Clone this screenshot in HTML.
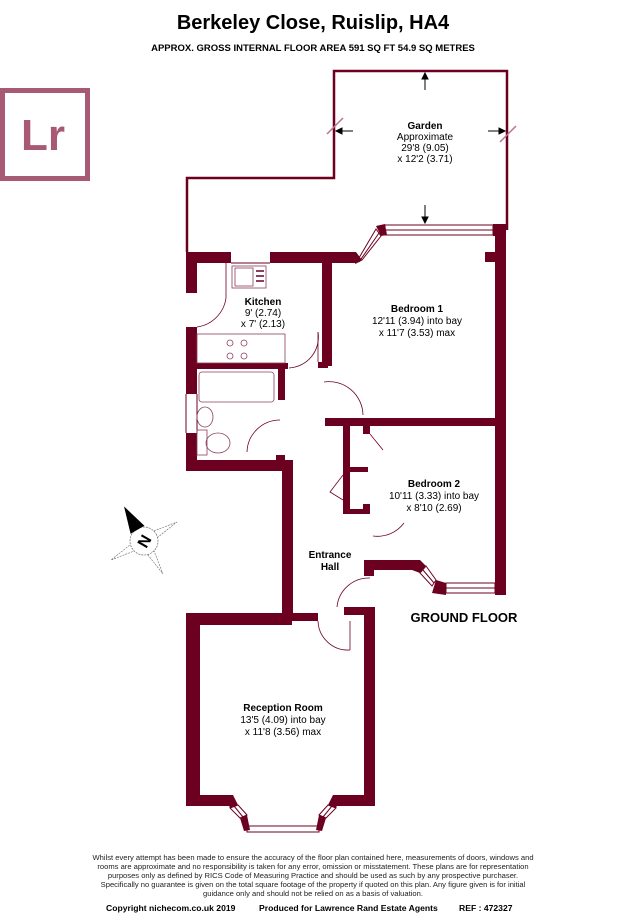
<!DOCTYPE html>
<html><head><meta charset="utf-8"><style>
html,body{margin:0;padding:0;background:#fff;}
body{width:627px;height:916px;overflow:hidden;position:relative;font-family:"Liberation Sans",Arial,sans-serif;}
svg{position:absolute;left:0;top:0;}
</style></head><body>
<svg width="627" height="916" viewBox="0 0 627 916" xmlns="http://www.w3.org/2000/svg" font-family="Liberation Sans, Arial, sans-serif">
<text x="313" y="29" text-anchor="middle" font-size="20" font-weight="bold" fill="#000">Berkeley Close, Ruislip, HA4</text>
<text x="313" y="51" text-anchor="middle" font-size="9.5" font-weight="bold" fill="#000">APPROX. GROSS INTERNAL FLOOR AREA 591 SQ FT 54.9 SQ METRES</text>

<!-- Lr logo -->
<rect x="2.5" y="90.5" width="85" height="88" fill="none" stroke="#a85a75" stroke-width="5"/>
<text x="21" y="150" font-size="44" font-weight="bold" fill="#a85a75">Lr</text>

<!-- Garden outline -->
<polyline points="187,252 187,178 334,178 334,71 507,71 507,230" fill="none" stroke="#6b0020" stroke-width="2.5"/>
<g stroke="#000" stroke-width="1" fill="#000">
<line x1="425" y1="90" x2="425" y2="76"/><polygon points="425,73 422,79 428,79"/>
<line x1="425" y1="205" x2="425" y2="220"/><polygon points="425,223 422,217 428,217"/>
<line x1="353" y1="131" x2="339" y2="131"/><polygon points="336,131 342,128 342,134"/>
<line x1="488" y1="131" x2="502" y2="131"/><polygon points="505,131 499,128 499,134"/>
</g>
<g stroke="#c07090" stroke-width="1.5"><line x1="327" y1="134" x2="343" y2="118"/><line x1="500" y1="142" x2="516" y2="126"/></g>
<text x="425" y="129" text-anchor="middle" font-size="10" font-weight="bold">Garden</text>
<text x="425" y="140" text-anchor="middle" font-size="10">Approximate</text>
<text x="425" y="151" text-anchor="middle" font-size="10">29'8 (9.05)</text>
<text x="425" y="162" text-anchor="middle" font-size="10">x 12'2 (3.71)</text>

<g fill="#6b0020">
<!-- top walls -->
<rect x="186" y="252" width="45" height="11"/>
<rect x="270" y="252" width="86" height="11"/>
<polygon points="350,252 356,252 362,260 356,263 352,263"/>
<polygon points="376,226 385,224 387,235 381,236"/>
<rect x="493" y="224" width="12" height="12"/>
<rect x="495" y="224" width="11" height="371"/>
<rect x="485" y="252" width="20" height="10"/>
<!-- left wall -->
<rect x="186" y="252" width="11" height="41"/>
<rect x="186" y="327" width="11" height="67"/>
<rect x="186" y="433" width="11" height="38"/>
<!-- kitchen/bath wall -->
<rect x="197" y="363" width="91" height="6"/>
<rect x="278" y="363" width="7" height="37"/>
<rect x="276" y="455" width="9" height="10"/>
<!-- bath bottom -->
<rect x="186" y="460" width="106" height="11"/>
<rect x="282" y="460" width="11" height="158"/>
<!-- bedroom1 left -->
<rect x="322" y="262" width="10" height="104"/>
<rect x="318" y="362" width="10" height="6"/>
<rect x="325" y="418" width="172" height="8"/>
<!-- cupboard -->
<rect x="343" y="426" width="7" height="88"/>
<rect x="343" y="467" width="25" height="5"/>
<rect x="343" y="509" width="25" height="5"/>
<rect x="363" y="426" width="7" height="8"/>
<rect x="363" y="504" width="7" height="10"/>
<!-- bedroom2 bottom -->
<rect x="364" y="560" width="54" height="10"/>
<polygon points="412,560 420,560 426,566 420,573 412,570"/>
<polygon points="436,580 446,583 446,595 432,593"/>
<rect x="364" y="560" width="10" height="16"/>
<!-- reception -->
<rect x="186" y="613" width="106" height="12"/>
<rect x="292" y="613" width="26" height="8"/>
<rect x="344" y="607" width="31" height="8"/>
<rect x="364" y="607" width="11" height="198"/>
<rect x="186" y="613" width="14" height="192"/>
<rect x="186" y="795" width="44" height="11"/>
<rect x="336" y="795" width="39" height="11"/>
<polygon points="225,795 233,795 238,805 230,808"/>
<polygon points="240,818 247,815 250,830 244,831"/>
<polygon points="341,795 333,795 328,805 336,808"/>
<polygon points="326,818 319,815 316,830 322,831"/>
</g>
<!-- windows -->
<g fill="none" stroke="#6b0020" stroke-width="1">
<rect x="385" y="225" width="108" height="10"/><line x1="385" y1="230" x2="493" y2="230"/>
<polygon points="356,263 362,260 381,236 376,229"/><line x1="359" y1="262" x2="379" y2="233"/>
<polygon points="420,573 426,566 436,580 432,586"/><line x1="423" y1="570" x2="434" y2="583"/>
<rect x="446" y="583" width="49" height="10"/><line x1="446" y1="588" x2="495" y2="588"/>
<rect x="247" y="826" width="72" height="6"/>
<polygon points="230,808 238,805 247,815 240,818"/><line x1="234" y1="806" x2="243" y2="817"/>
<polygon points="336,808 328,805 319,815 326,818"/><line x1="332" y1="806" x2="323" y2="817"/>
<line x1="231" y1="263" x2="270" y2="263"/>
<line x1="186" y1="394" x2="186" y2="433"/><line x1="197" y1="394" x2="197" y2="433"/>
</g>
<!-- doors -->
<g fill="none" stroke="#6b0020" stroke-width="0.8">
<path d="M197,327 A34,34 0 0 0 226,298"/><line x1="226" y1="298" x2="226" y2="263"/>
<path d="M289,368 A31,31 0 0 0 318,332"/><line x1="318" y1="332" x2="318" y2="362"/>
<path d="M324,382 A34,34 0 0 1 363,415"/>
<path d="M247,452 A33,33 0 0 1 280,420"/>
<path d="M370,434 L383,450"/>
<path d="M343,475 L330,492 L343,500"/>
<path d="M373,536 A33,33 0 0 0 404,523"/>
<path d="M337,607 A32,32 0 0 1 370,578"/>
<path d="M318,621 A30,30 0 0 0 350,650"/><line x1="350" y1="650" x2="350" y2="621"/>
</g>
<!-- fixtures -->
<g fill="none" stroke="#8a4060" stroke-width="0.8">
<rect x="232" y="266" width="34" height="22"/><rect x="235" y="268" width="18" height="18"/>
<line x1="256" y1="271" x2="264" y2="271" stroke-width="2"/><line x1="256" y1="276" x2="264" y2="276" stroke-width="2"/><line x1="256" y1="281" x2="264" y2="281" stroke-width="2"/>
<rect x="197" y="334" width="88" height="29"/>
<circle cx="230" cy="343" r="3"/><circle cx="244" cy="343" r="3"/><circle cx="230" cy="356" r="3"/><circle cx="244" cy="356" r="3"/>
<rect x="199" y="372" width="75" height="30" rx="3"/>
<ellipse cx="205" cy="417" rx="8" ry="10"/>
<rect x="197" y="430" width="10" height="25"/><ellipse cx="218" cy="443" rx="12" ry="10"/>
</g>
<!-- compass -->
<g transform="translate(144,541) rotate(-30)">
<polygon points="0,-38 5,-5 38,0 5,5 0,38 -5,5 -38,0 -5,-5" fill="none" stroke="#666" stroke-width="0.6" stroke-dasharray="2,1"/>
<circle r="14" fill="#fff" stroke="#666" stroke-width="0.7" stroke-dasharray="2,1"/>
<polygon points="0,-40 -8,-13 8,-13" fill="#000"/>
</g>
<text x="144" y="547" text-anchor="middle" font-size="16" font-weight="bold" transform="rotate(-60 144 541)">N</text>

<!-- labels -->
<g font-size="10" text-anchor="middle" fill="#000">
<text x="263" y="305" font-weight="bold">Kitchen</text>
<text x="263" y="316">9' (2.74)</text>
<text x="263" y="327">x 7' (2.13)</text>
<text x="417" y="312" font-weight="bold">Bedroom 1</text>
<text x="417" y="324">12'11 (3.94) into bay</text>
<text x="417" y="336">x 11'7 (3.53) max</text>
<text x="434" y="487" font-weight="bold">Bedroom 2</text>
<text x="434" y="499">10'11 (3.33) into bay</text>
<text x="434" y="511">x 8'10 (2.69)</text>
<text x="330" y="558" font-weight="bold">Entrance</text>
<text x="330" y="570" font-weight="bold">Hall</text>
<text x="283" y="711" font-weight="bold">Reception Room</text>
<text x="283" y="723">13'5 (4.09) into bay</text>
<text x="283" y="735">x 11'8 (3.56) max</text>
</g>
<text x="464" y="622" text-anchor="middle" font-size="13" font-weight="bold">GROUND FLOOR</text>

<g font-size="7.6" text-anchor="middle" fill="#222">
<text x="313" y="860">Whilst every attempt has been made to ensure the accuracy of the floor plan contained here, measurements of doors, windows and</text>
<text x="313" y="869">rooms are approximate and no responsibility is taken for any error, omission or misstatement. These plans are for representation</text>
<text x="313" y="878">purposes only as defined by RICS Code of Measuring Practice and should be used as such by any prospective purchaser.</text>
<text x="313" y="887">Specifically no guarantee is given on the total square footage of the property if quoted on this plan. Any figure given is for initial</text>
<text x="313" y="896">guidance only and should not be relied on as a basis of valuation.</text>
</g>
<g font-size="8.6" font-weight="bold">
<text x="106" y="911">Copyright nichecom.co.uk 2019</text>
<text x="259" y="911">Produced for Lawrence Rand Estate Agents</text>
<text x="459" y="911">REF : 472327</text>
</g>
</svg>
</body></html>
